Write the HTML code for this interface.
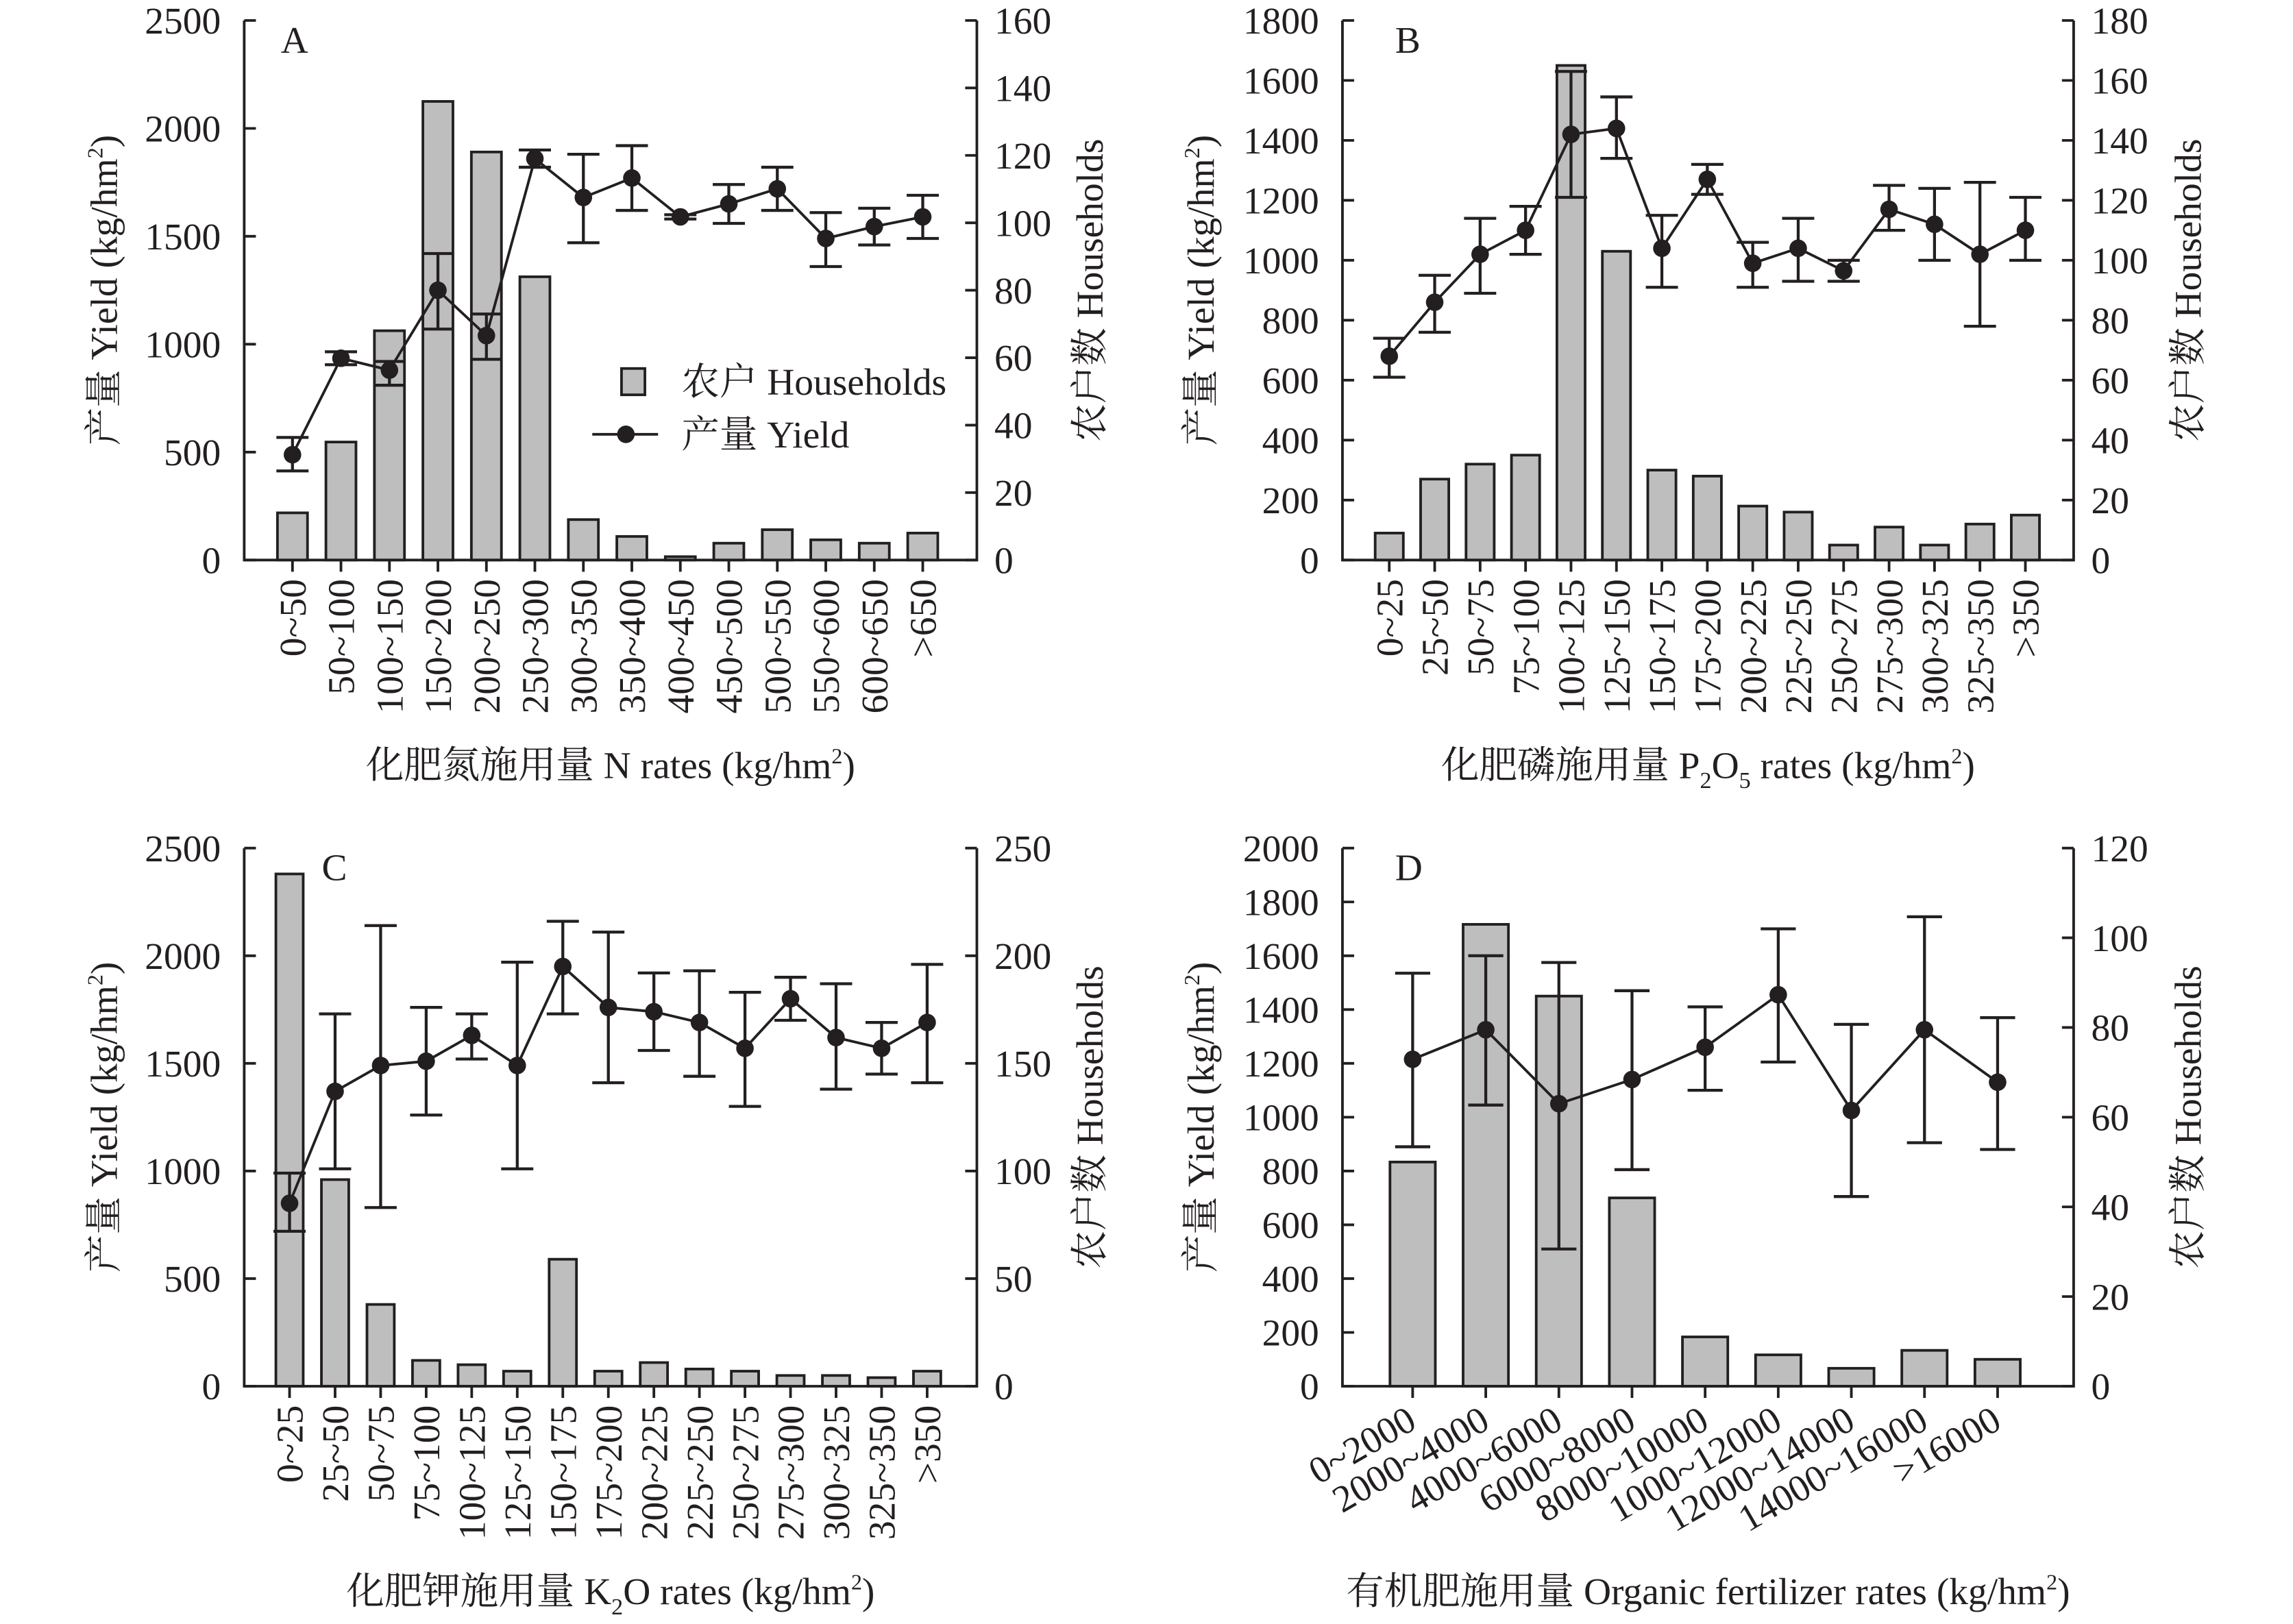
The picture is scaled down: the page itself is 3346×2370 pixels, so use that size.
<!DOCTYPE html>
<html><head><meta charset="utf-8"><style>
html,body{margin:0;padding:0;background:#fff}
svg{display:block}
text{font-family:"Liberation Serif","Noto Serif CJK SC",serif;fill:#231f20}
</style></head><body>
<svg id="fig" width="3346" height="2370" viewBox="0 0 1568 1110.6" preserveAspectRatio="none" xmlns="http://www.w3.org/2000/svg"></svg>
<script>
// Panel A data
const catsA=["0~50","50~100","100~150","150~200","200~250","250~300","300~350","350~400","400~450","450~500","500~550","550~600","600~650",">650"];
const hhA=[14,35,68,136,121,84,12,7,1,5,9,6,5,8];
const yA=[488,935,880,1250,1040,1860,1680,1770,1590,1650,1720,1490,1545,1590];
const loA=[413,905,810,1070,930,1820,1470,1620,1580,1560,1620,1360,1460,1490];
const hiA=[568,965,920,1420,1140,1900,1880,1920,1600,1740,1820,1610,1630,1690];
// Panel B data
const catsB=["0~25","25~50","50~75","75~100","100~125","125~150","150~175","175~200","200~225","225~250","250~275","275~300","300~325","325~350",">350"];
const hhB=[9,27,32,35,165,103,30,28,18,16,5,11,5,12,15];
const yB=[680,860,1020,1100,1420,1440,1040,1270,990,1040,965,1170,1120,1020,1100];
const loB=[610,760,890,1020,1210,1340,910,1220,910,930,930,1100,1000,780,1000];
const hiB=[740,950,1140,1180,1630,1545,1150,1320,1060,1140,1000,1250,1240,1260,1210];
// Panel C data
const catsC=["0~25","25~50","50~75","75~100","100~125","125~150","150~175","175~200","200~225","225~250","250~275","275~300","300~325","325~350",">350"];
const hhC=[238,96,38,12,10,7,59,7,11,8,7,5,5,4,7];
const yC=[850,1370,1490,1510,1630,1490,1950,1760,1740,1690,1570,1800,1620,1570,1690];
const loC=[720,1010,830,1260,1520,1010,1730,1410,1560,1440,1300,1700,1380,1450,1410];
const hiC=[990,1730,2140,1760,1730,1970,2160,2110,1920,1930,1830,1900,1870,1690,1960];
// Panel D data
const catsD=["0~2000","2000~4000","4000~6000","6000~8000","8000~10000","1000~12000","12000~14000","14000~16000",">16000"];
const hhD=[50,103,87,42,11,7,4,8,6];
const yD=[1215,1325,1050,1140,1260,1455,1025,1325,1130];
const loD=[890,1045,510,805,1100,1205,705,905,880];
const hiD=[1535,1600,1575,1470,1410,1700,1345,1745,1370];

const NS="http://www.w3.org/2000/svg";
const svg=document.getElementById('fig');
function mk(tag,attrs,parent,txt){const e=document.createElementNS(NS,tag);for(const k in attrs)e.setAttribute(k,attrs[k]);if(txt!==undefined)e.textContent=txt;(parent||svg).appendChild(e);return e;}

function panel(p){
  const g=mk('g',{});
  
  
  const n=p.cats.length;
  const step=(p.xLast-p.xFirst)/(n-1);
  const xs=i=>p.xFirst+i*step;
  const yL=v=>p.y0-(v/p.lMax)*(p.y0-p.yTop);
  const yR=v=>p.y0-(v/p.rMax)*(p.y0-p.yTop);
  const bw=step*p.bwf;
  p.hh.forEach((v,i)=>{
    const r=mk('rect',{x:xs(i)-bw/2,y:yR(v),width:bw,height:p.y0-yR(v),fill:'#bebebe',stroke:'#231f20','stroke-width':1.8},g);
    
    
  });
  const ax=mk('path',{d:`M${p.xL},${p.yTop}V${p.y0}H${p.xR}V${p.yTop}`,fill:'none',stroke:'#231f20','stroke-width':1.8},g);
  
  
  for(let v=0;v<=p.lMax;v+=p.lStep){
    const y=yL(v);
    mk('line',{x1:p.xL,x2:p.xL+8,y1:y,y2:y,stroke:'#231f20','stroke-width':1.8},g);
    const t=mk('text',{x:p.xL-16,y:y+9,'text-anchor':'end','font-size':26},g,String(v));
    
    
  }
  for(let v=0;v<=p.rMax;v+=p.rStep){
    const y=yR(v);
    mk('line',{x1:p.xR-8,x2:p.xR,y1:y,y2:y,stroke:'#231f20','stroke-width':1.8},g);
    const t=mk('text',{x:p.xR+12,y:y+9,'text-anchor':'start','font-size':26},g,String(v));
    
    
  }
  p.cats.forEach((c,i)=>{
    const x=xs(i);
    mk('line',{x1:x,x2:x,y1:p.y0,y2:p.y0+8,stroke:'#231f20','stroke-width':1.8},g);
    let t;
    if(p.rot===-90){
      t=mk('text',{x:x+9,y:p.y0+13,'text-anchor':'end','font-size':26,transform:`rotate(-90 ${x+9} ${p.y0+13})`},g,c);
    }else{
      t=mk('text',{x:x+4,y:p.y0+28,'text-anchor':'end','font-size':26,transform:`rotate(-30 ${x+4} ${p.y0+28})`},g,c);
    }
    
    
  });
  const pts=p.y.map((v,i)=>xs(i)+','+yL(v)).join(' ');
  const pl=mk('polyline',{points:pts,fill:'none',stroke:'#231f20','stroke-width':1.8},g);
  
  
  p.y.forEach((v,i)=>{
    const x=xs(i),cw=p.cap;
    const e=mk('path',{d:`M${x},${yL(p.lo[i])}V${yL(p.hi[i])}M${x-cw},${yL(p.lo[i])}H${x+cw}M${x-cw},${yL(p.hi[i])}H${x+cw}`,fill:'none',stroke:'#231f20','stroke-width':2},g);
    
    
    const c=mk('circle',{cx:x,cy:yL(v),r:6,fill:'#231f20'},g);
    
    
  });
  const L=mk('text',{x:p.xL+p.letterDx,y:p.yTop+22,'font-size':26},g,p.id);
  
  
  const cy=(p.yTop+p.y0)/2;
  const lt=mk('text',{x:p.ltx,y:cy,'text-anchor':'middle','font-size':26,transform:`rotate(-90 ${p.ltx} ${cy})`},g);
  lt.innerHTML=p.ltitle+' (kg/hm<tspan dy="-10" font-size="15">2</tspan><tspan dy="10">)</tspan>';
  
  
  const rt=mk('text',{x:p.rtx,y:cy,'text-anchor':'middle','font-size':26,transform:`rotate(-90 ${p.rtx} ${cy})`},g,p.rtitle);
  
  
  const xt=mk('text',{x:(p.xL+p.xR)/2,y:p.xty,'text-anchor':'middle','font-size':26},g);
  xt.innerHTML=p.xtitle;
  
  
}

const sup='<tspan dy="-10" font-size="15">2</tspan><tspan dy="10">)</tspan>';
panel({id:'A',cats:catsA,hh:hhA,y:yA,lo:loA,hi:hiA,xL:167,xR:668,yTop:14,y0:383,lMax:2500,lStep:500,rMax:160,rStep:20,xFirst:200,xLast:631,bwf:0.62,cap:11,rot:-90,ltx:80,rtx:754,letterDx:25,ltitle:'产量 Yield',rtitle:'农户数 Households',xty:532,xtitle:'化肥氮施用量 N rates (kg/hm'+sup});
panel({id:'B',cats:catsB,hh:hhB,y:yB,lo:loB,hi:hiB,xL:918,xR:1418,yTop:14,y0:383,lMax:1800,lStep:200,rMax:180,rStep:20,xFirst:950,xLast:1385,bwf:0.62,cap:11,rot:-90,ltx:830,rtx:1505,letterDx:36,ltitle:'产量 Yield',rtitle:'农户数 Households',xty:532,xtitle:'化肥磷施用量 P<tspan dy="7" font-size="16">2</tspan><tspan dy="-7">O</tspan><tspan dy="7" font-size="16">5</tspan><tspan dy="-7"> rates (kg/hm</tspan>'+sup});
panel({id:'C',cats:catsC,hh:hhC,y:yC,lo:loC,hi:hiC,xL:167,xR:668,yTop:580,y0:948,lMax:2500,lStep:500,rMax:250,rStep:50,xFirst:198,xLast:634,bwf:0.6,cap:11,rot:-90,ltx:80,rtx:754,letterDx:53,ltitle:'产量 Yield',rtitle:'农户数  Households',xty:1097,xtitle:'化肥钾施用量 K<tspan dy="7" font-size="16">2</tspan><tspan dy="-7">O rates (kg/hm</tspan>'+sup});
panel({id:'D',cats:catsD,hh:hhD,y:yD,lo:loD,hi:hiD,xL:918,xR:1418,yTop:580,y0:948,lMax:2000,lStep:200,rMax:120,rStep:20,xFirst:966,xLast:1366,bwf:0.62,cap:12,rot:-30,ltx:830,rtx:1505,letterDx:36,ltitle:'产量  Yield',rtitle:'农户数 Households',xty:1097,xtitle:'有机肥施用量 Organic fertilizer rates (kg/hm'+sup});

const lg=mk('g',{});


const lr=mk('rect',{x:425,y:252,width:16,height:18,fill:'#bebebe',stroke:'#231f20','stroke-width':1.8},lg);


const l1=mk('text',{x:466,y:270,'font-size':26},lg,'农户 Households');


const ll=mk('line',{x1:405,x2:450,y1:297,y2:297,stroke:'#231f20','stroke-width':1.8},lg);


mk('circle',{cx:428,cy:297,r:6,fill:'#231f20'},lg);
const l2=mk('text',{x:466,y:306,'font-size':26},lg,'产量 Yield');


</script>
</body></html>
